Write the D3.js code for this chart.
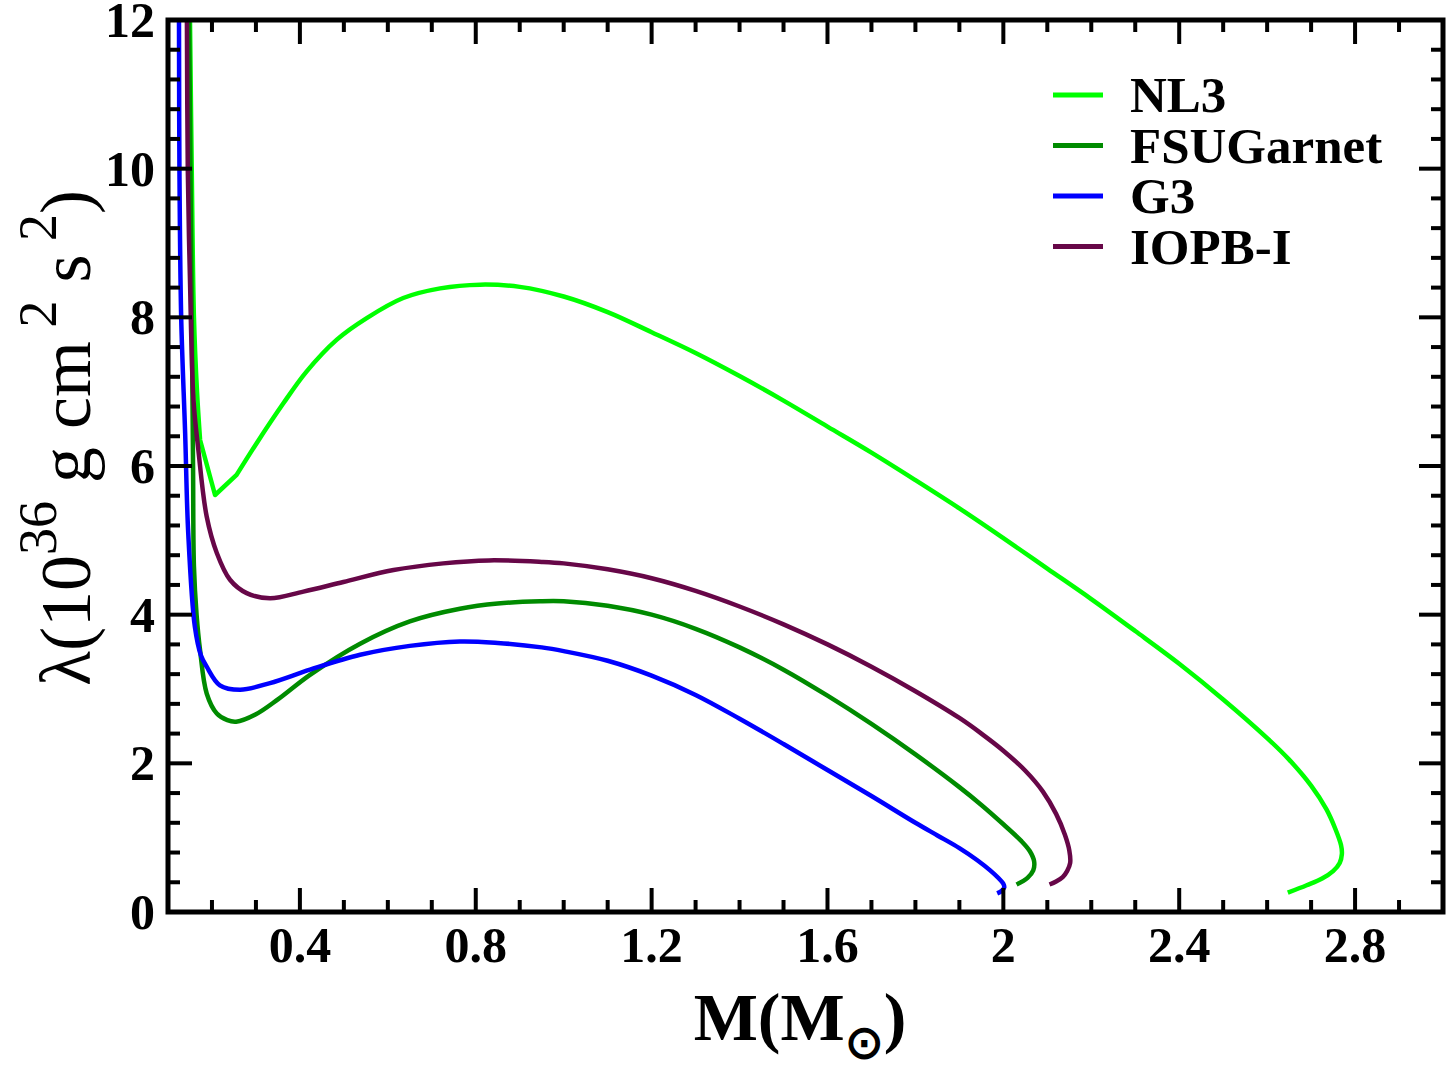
<!DOCTYPE html>
<html lang="en">
<head>
<meta charset="utf-8">
<title>Tidal deformability vs mass</title>
<script src="https://d3js.org/d3.v7.min.js"></script>
<style>
  body { margin: 0; background: #fff; }
  text { font-family: "Liberation Serif", "Times New Roman", serif; }
</style>
</head>
<body>
<div id="chart"></div>
<script>
// mass (M_sun), lambda (10^36 g cm^2 s^2)
// repeated points mark sharp corners in the original polyline
var nl3 = [[0.148,13],[0.150,12],[0.154,10],[0.159,8],[0.166,7],[0.173,6.35],[0.173,6.35],[0.207,5.61],[0.207,5.61],
  [0.256,5.88],[0.256,5.88],[0.302,6.31],[0.362,6.84],[0.415,7.27],[0.484,7.70],[0.552,7.99],[0.635,8.26],
  [0.719,8.39],[0.81,8.44],[0.9,8.41],[1.0,8.28],[1.1,8.07],[1.2,7.80],[1.3,7.52],[1.4,7.21],[1.5,6.88],
  [1.6,6.53],[1.7,6.18],[1.8,5.81],[1.9,5.43],[2.0,5.03],[2.1,4.62],[2.2,4.21],[2.3,3.78],[2.4,3.34],
  [2.5,2.86],[2.6,2.34],[2.65,2.05],[2.7,1.70],[2.735,1.38],[2.755,1.12],[2.768,0.90],[2.77,0.78],
  [2.765,0.66],[2.75,0.55],[2.725,0.45],[2.69,0.36],[2.647,0.26]];
var fsu = [[0.146,13],[0.148,12],[0.151,10],[0.154,8],[0.157,6],[0.159,4.65],[0.165,4.0],[0.173,3.52],
  [0.188,2.94],[0.211,2.67],[0.235,2.58],[0.255,2.56],[0.30,2.66],[0.35,2.86],[0.423,3.19],[0.537,3.61],
  [0.65,3.91],[0.764,4.08],[0.85,4.15],[0.946,4.18],[1.0,4.18],[1.1,4.12],[1.2,4.0],[1.3,3.81],[1.4,3.56],
  [1.5,3.26],[1.6,2.91],[1.7,2.53],[1.8,2.12],[1.9,1.68],[1.95,1.44],[2.0,1.18],[2.04,0.96],[2.06,0.82],
  [2.07,0.68],[2.068,0.56],[2.055,0.46],[2.03,0.37]];
var g3 = [[0.124,13],[0.125,12],[0.126,10],[0.130,8],[0.139,6.44],[0.146,5.1],[0.161,3.84],[0.175,3.45],
  [0.188,3.3],[0.218,3.05],[0.264,2.99],[0.332,3.08],[0.423,3.26],[0.537,3.46],[0.65,3.58],[0.764,3.64],
  [0.85,3.62],[0.95,3.56],[1.0,3.51],[1.1,3.38],[1.2,3.18],[1.3,2.92],[1.4,2.60],[1.5,2.26],[1.6,1.91],
  [1.7,1.56],[1.8,1.20],[1.85,1.03],[1.9,0.86],[1.94,0.70],[1.97,0.56],[1.99,0.45],[2.0,0.38],
  [2.002,0.33],[1.995,0.28],[1.986,0.25]];
var iopb = [[0.142,13],[0.143,12],[0.145,10],[0.150,8.5],[0.158,6.89],[0.169,6.22],[0.188,5.32],
  [0.211,4.83],[0.241,4.47],[0.279,4.29],[0.332,4.22],[0.408,4.31],[0.499,4.44],[0.613,4.60],[0.726,4.69],
  [0.83,4.73],[0.95,4.71],[1.0,4.69],[1.1,4.61],[1.2,4.49],[1.3,4.32],[1.4,4.11],[1.5,3.87],[1.6,3.60],
  [1.7,3.30],[1.8,2.97],[1.9,2.61],[1.95,2.40],[2.0,2.17],[2.05,1.90],[2.09,1.62],[2.12,1.32],[2.14,1.04],
  [2.15,0.83],[2.152,0.66],[2.145,0.55],[2.135,0.47],[2.12,0.41],[2.105,0.37]];

var seriesNames = ["NL3", "FSUGarnet", "G3", "IOPB-I"];
var seriesColors = ["#00ff00", "#008b00", "#0000ff", "#670748"];
var seriesData = [nl3, fsu, g3, iopb];

var xMajorTicks = [0.4, 0.8, 1.2, 1.6, 2, 2.4, 2.8];
var xTickLabels = ["0.4", "0.8", "1.2", "1.6", "2", "2.4", "2.8"];
var yMajorTicks = [0, 2, 4, 6, 8, 10, 12];

var W = 1450, H = 1075;
var pLeft = 168, pRight = 1443, pTop = 20, pBottom = 912;

var x = d3.scaleLinear().domain([0.1, 3.0]).range([pLeft, pRight]);
var y = d3.scaleLinear().domain([0, 12]).range([pBottom, pTop]);

var svg = d3.select("#chart").append("svg").attr("width", W).attr("height", H);

svg.append("defs").append("clipPath").attr("id", "clip")
  .append("rect").attr("x", pLeft).attr("y", pTop).attr("width", pRight - pLeft).attr("height", pBottom - pTop);

// curves
var line = d3.line()
  .x(function(d) { return x(d[0]); })
  .y(function(d) { return y(d[1]); })
  .curve(d3.curveCatmullRom.alpha(0.5));

var curves = svg.append("g").attr("clip-path", "url(#clip)");
seriesData.forEach(function(s, i) {
  curves.append("path").datum(s)
    .attr("d", line)
    .attr("fill", "none")
    .attr("stroke", seriesColors[i])
    .attr("stroke-width", 4.5)
    .attr("stroke-linejoin", "round");
});

// ticks (inward, all four sides)
var xMinor = d3.range(2, 30).map(function(v) { return v / 10; });
var yMinor = d3.range(1, 30).map(function(v) { return v * 0.4; }).filter(function(v) { return v < 11.9; });
var tk = svg.append("g").attr("stroke", "#000").attr("stroke-width", 4);
xMinor.forEach(function(v) {
  var isMajor = xMajorTicks.some(function(m) { return Math.abs(m - v) < 1e-6; });
  var len = isMajor ? 24 : 12;
  tk.append("line").attr("x1", x(v)).attr("x2", x(v)).attr("y1", pBottom).attr("y2", pBottom - len);
  tk.append("line").attr("x1", x(v)).attr("x2", x(v)).attr("y1", pTop).attr("y2", pTop + len);
});
yMinor.forEach(function(v) {
  var isMajor = Math.abs(v / 2 - Math.round(v / 2)) < 1e-6;
  var len = isMajor ? 24 : 12;
  tk.append("line").attr("y1", y(v)).attr("y2", y(v)).attr("x1", pLeft).attr("x2", pLeft + len);
  tk.append("line").attr("y1", y(v)).attr("y2", y(v)).attr("x1", pRight).attr("x2", pRight - len);
});

// frame
svg.append("rect").attr("x", pLeft).attr("y", pTop)
  .attr("width", pRight - pLeft).attr("height", pBottom - pTop)
  .attr("fill", "none").attr("stroke", "#000").attr("stroke-width", 5);

// tick labels
svg.append("g").selectAll("text").data(xMajorTicks).enter().append("text")
  .attr("x", function(d) { return x(d); })
  .attr("y", 962)
  .attr("text-anchor", "middle")
  .attr("font-size", 50).attr("font-weight", "bold")
  .text(function(d, i) { return xTickLabels[i]; });

svg.append("g").selectAll("text").data(yMajorTicks).enter().append("text")
  .attr("x", 155)
  .attr("y", function(d) { return y(d) + 17; })
  .attr("text-anchor", "end")
  .attr("font-size", 50).attr("font-weight", "bold")
  .text(function(d) { return d; });

// axis titles
var xt = svg.append("text").attr("x", 800).attr("y", 1040)
  .attr("text-anchor", "middle").attr("font-size", 68).attr("font-weight", "bold");
xt.append("tspan").text("M(M");
xt.append("tspan").attr("dy", 18).attr("font-size", 46).text("\u2299");
xt.append("tspan").attr("dy", -18).text(")");

var yt = svg.append("text").attr("transform", "translate(90," + 438 + ") rotate(-90)")
  .attr("text-anchor", "middle").attr("font-size", 72);
yt.append("tspan").text("\u03bb(10");
yt.append("tspan").attr("dy", -34).attr("font-size", 54).text("36");
yt.append("tspan").attr("dy", 34).text(" g cm");
yt.append("tspan").attr("dy", -34).attr("font-size", 54).text(" 2");
yt.append("tspan").attr("dy", 34).text(" s");
yt.append("tspan").attr("dy", -34).attr("font-size", 54).text(" 2");
yt.append("tspan").attr("dy", 34).text(")");

// legend
var lg = svg.append("g");
seriesNames.forEach(function(n, i) {
  var ly = 95 + i * 50.5;
  lg.append("line").attr("x1", 1053).attr("x2", 1103).attr("y1", ly).attr("y2", ly)
    .attr("stroke", seriesColors[i]).attr("stroke-width", 5);
  lg.append("text").attr("x", 1130).attr("y", ly + 17)
    .attr("font-size", 51).attr("font-weight", "bold").text(n);
});
</script>
</body>
</html>
